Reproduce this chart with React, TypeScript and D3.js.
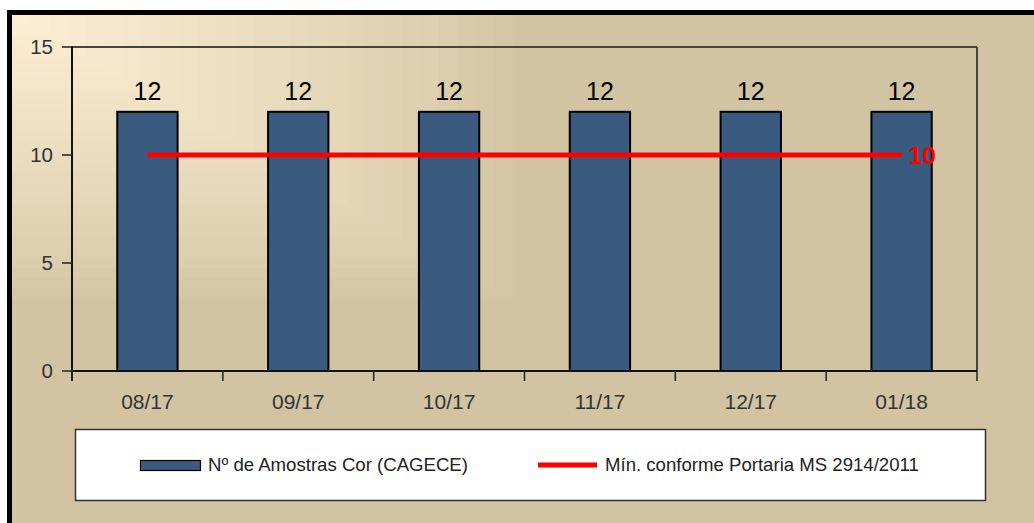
import { useMemo } from "react";
import * as d3 from "d3";

const months = ["08/17", "09/17", "10/17", "11/17", "12/17", "01/18"];
const samples = [12, 12, 12, 12, 12, 12];
const minimum = [10, 10, 10, 10, 10, 10];
const yTicks = [0, 5, 10, 15];
const seriesNames = ["Nº de Amostras Cor (CAGECE)", "Mín. conforme Portaria MS 2914/2011"];

const width = 1034;
const height = 523;
const marginLeft = 72;
const marginRight = 57;
const marginTop = 47;
const plotBottom = 371;
const font = "'Liberation Sans', Arial, sans-serif";

export default function App() {
  const x = d3
    .scaleBand<string>()
    .domain(months)
    .range([marginLeft, width - marginRight])
    .paddingInner(0.6)
    .paddingOuter(0.3);

  const y = d3.scaleLinear().domain([0, 15]).range([plotBottom, marginTop]);

  // boundaries between categories for the x ticks
  const step = x.step();
  const xTicks = d3.range(months.length + 1).map((i) => marginLeft + i * step);

  const line = d3
    .line<number>()
    .x((_, i) => (x(months[i]) ?? 0) + x.bandwidth() / 2)
    .y((d) => y(d));

  // stepped corner gradient like the original (rectangular contours)
  const shades = useMemo(() => {
    const n = 28;
    const c = d3.interpolateRgb("#d2c4a2", "#fcedd3");
    return d3.range(n).map((i) => {
      const t = 1 - i / n;
      return { w: 520 * t, h: 295 * t, fill: c(Math.pow(i / (n - 1), 0.8)) };
    });
  }, []);

  const last = months.length - 1;
  const lastX = (x(months[last]) ?? 0) + x.bandwidth() / 2;

  return (
    <svg
      width={width}
      height={height}
      style={{ position: "absolute", left: 0, top: 0, display: "block" }}
      fontFamily={font}
    >
      <rect x={0} y={0} width={width} height={height} fill="#ffffff" />
      <rect x={10} y={13} width={width} height={height} fill="#d2c4a2" />
      {shades.map((s, i) => (
        <rect key={i} x={12} y={15} width={s.w} height={s.h} fill={s.fill} />
      ))}
      <rect
        x={9.5}
        y={12.5}
        width={width + 20}
        height={height + 20}
        fill="none"
        stroke="#000"
        strokeWidth={5}
      />

      {/* plot frame */}
      <line x1={marginLeft} x2={width - marginRight} y1={marginTop} y2={marginTop} stroke="#444" strokeWidth={2} />
      <line x1={width - marginRight} x2={width - marginRight} y1={marginTop} y2={plotBottom} stroke="#444" strokeWidth={2} />

      {/* y axis */}
      <line x1={marginLeft} x2={marginLeft} y1={marginTop - 1} y2={plotBottom + 10} stroke="#111" strokeWidth={2} />
      {yTicks.map((t) => (
        <g key={t}>
          <line x1={marginLeft - 10} x2={marginLeft} y1={y(t)} y2={y(t)} stroke="#222" strokeWidth={1.5} />
          <text x={marginLeft - 19} y={y(t)} dy="0.36em" textAnchor="end" fontSize={20.5} fill="#333">
            {t}
          </text>
        </g>
      ))}

      {/* bars */}
      {samples.map((v, i) => (
        <g key={months[i]}>
          <rect
            x={x(months[i])}
            y={y(v)}
            width={x.bandwidth()}
            height={plotBottom - y(v)}
            fill="#3b5a80"
            stroke="#000"
            strokeWidth={2}
          />
          <text
            x={(x(months[i]) ?? 0) + x.bandwidth() / 2}
            y={y(v) - 12}
            textAnchor="middle"
            fontSize={25}
            fill="#000"
          >
            {v}
          </text>
        </g>
      ))}

      {/* x axis */}
      <line x1={marginLeft} x2={width - marginRight} y1={plotBottom} y2={plotBottom} stroke="#111" strokeWidth={2} />
      {xTicks.map((t, i) => (
        <line key={i} x1={t} x2={t} y1={plotBottom} y2={plotBottom + 10} stroke="#222" strokeWidth={1.5} />
      ))}
      {months.map((m) => (
        <text
          key={m}
          x={(x(m) ?? 0) + x.bandwidth() / 2}
          y={409}
          textAnchor="middle"
          fontSize={21}
          fill="#333"
        >
          {m}
        </text>
      ))}

      {/* minimum line */}
      <path d={line(minimum) ?? ""} fill="none" stroke="#ff0000" strokeWidth={5} />
      <text x={lastX + 7} y={y(minimum[last])} dy="0.36em" fontSize={24.5} fontWeight="bold" fill="#ff0000">
        {minimum[last]}
      </text>

      {/* legend */}
      <rect x={75.5} y={429.5} width={910} height={71} fill="#fff" stroke="#333" strokeWidth={1.5} />
      <rect x={140.5} y={460.5} width={60} height={10} fill="#3b5a80" stroke="#000" strokeWidth={1.2} />
      <text x={208} y={471} fontSize={18.6} fill="#222">
        {seriesNames[0]}
      </text>
      <line x1={538} x2={597} y1={465} y2={465} stroke="#ff0000" strokeWidth={5} />
      <text x={605} y={471} fontSize={18.6} fill="#222">
        {seriesNames[1]}
      </text>
    </svg>
  );
}
